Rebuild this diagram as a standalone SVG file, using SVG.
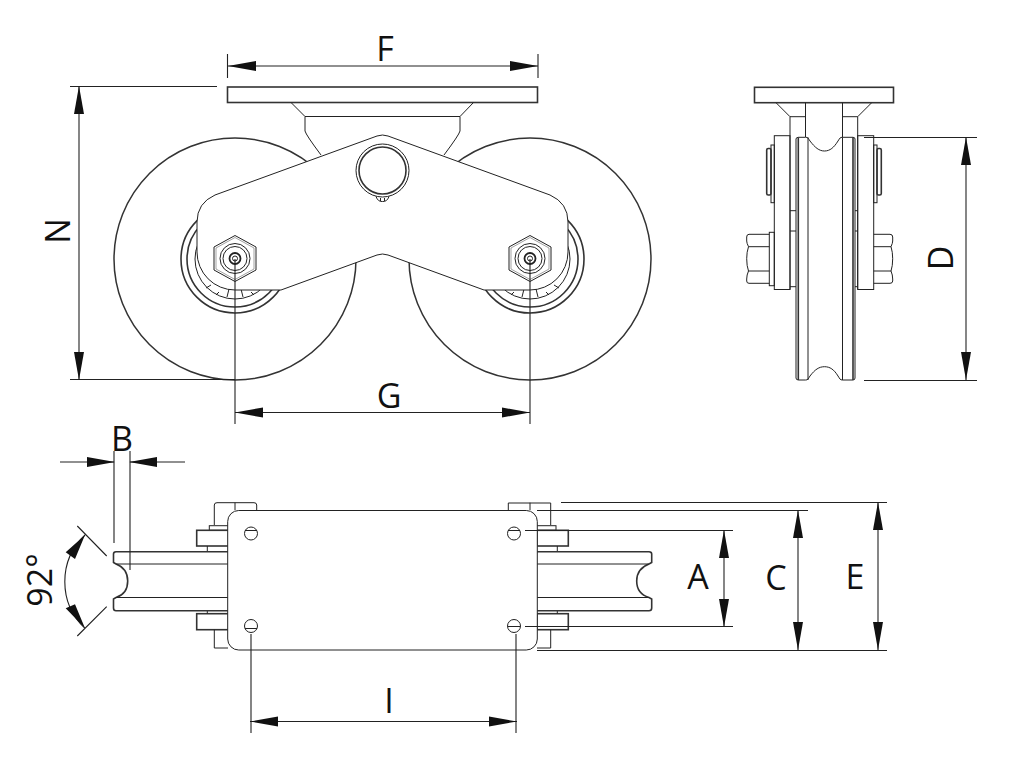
<svg xmlns="http://www.w3.org/2000/svg" width="1027" height="763" viewBox="0 0 1027 763">
<style>
.l{fill:none;stroke:#222;stroke-width:1}
.o{fill:none;stroke:#333;stroke-width:1.6}
.w{fill:#fff;stroke:#222;stroke-width:1}
.wo{fill:#fff;stroke:#333;stroke-width:1.5}
.d{fill:none;stroke:#222;stroke-width:1.1}
.a{fill:none;stroke:#222;stroke-width:1.1;marker-start:url(#ar);marker-end:url(#ar)}
.t{font-family:"Open Sans",sans-serif;font-size:34px;fill:#111;text-anchor:middle}
</style>
<defs>
<marker id="ar" markerUnits="userSpaceOnUse" markerWidth="30" markerHeight="12" refX="28" refY="5.500" orient="auto-start-reverse" viewBox="0 0 30 12"><path d="M28 5.500L0 0.500V10.500Z" fill="#111"/></marker>
<g id="hub">
<circle r="54" class="o"/><circle r="48" class="o"/><circle r="40" class="l"/>
<path d="M-6 30L-8 38M6 30L8 38M-24 26L-29 29M24 26L29 29M-16 33L-19 36M16 33L19 36" class="l"/>
</g>
<g id="bolt">
<path d="M0-23L21-11.500V11.500L0 23L-21 11.500V-11.500Z" class="w"/>
<path d="M0-21L19-10.500V10.500L0 21L-19 10.500V-10.500Z" fill="none" stroke="#444" stroke-width=".5"/>
<circle r="15" class="l"/><circle r="12" class="l"/><circle r="5.500" fill="none" stroke="#222" stroke-width="1.800"/><circle r="2.500" class="l"/>
</g>
</defs>
<rect width="1027" height="763" fill="#fff"/>

<g id="front-view">
<rect x="227.500" y="87" width="310" height="15.500" class="o"/>
<path d="M291 102.500L305 116.500H460L473.500 102.500M305 116.500V131Q306 135 321 155M460 116.500V131Q459 135 444 155" class="l"/>
<circle cx="235" cy="259" r="121" class="wo"/>
<circle cx="530" cy="259" r="121" class="wo"/>
<use href="#hub" x="235" y="259"/>
<use href="#hub" x="530" y="259"/>
<path d="M377 136Q382.500 134 388 136L550 195Q568 203 568 222V252A38 38 0 0 1 530 290H484L388 255Q382.500 253 377 255L281 290H235A38 38 0 0 1 197 252V222Q197 203 215 195Z" class="w"/>
<use href="#bolt" x="235" y="258.500"/>
<use href="#bolt" x="530" y="258.500"/>
<circle cx="382.500" cy="170.500" r="26.500" class="l"/>
<circle cx="382.500" cy="170.500" r="23.500" class="o"/>
<path d="M376 196.500Q378 202 382.500 201.500Q387 202 389 196.500M380.500 198V201M384.500 198V201" class="l"/>
</g>

<g id="side-view">
<rect x="754.500" y="87.300" width="139" height="15.400" class="o"/>
<path d="M776 102.700L790 116.700H805.500M871.700 102.700L857.700 116.700H842.500M805.500 102.700V137M842.500 102.700V137M790 116.700V289.500M857.700 116.700V289.500" class="l"/>
<rect x="774.300" y="135.700" width="15.700" height="153.800" class="l"/>
<rect x="857.700" y="135.700" width="16" height="153.800" class="l"/>
<rect x="771" y="145" width="3.300" height="57.700" class="l"/>
<rect x="766.700" y="148.500" width="4.300" height="46.500" rx="1.500" class="o"/>
<rect x="873.700" y="145" width="3.300" height="57.700" class="l"/>
<rect x="877" y="148.500" width="4.300" height="46.500" rx="1.500" class="o"/>
<path d="M790 210.700H796M790 231H796M790 286.700H796M852 210.700H857.700M852 231H857.700M852 286.700H857.700" class="l"/>
<rect x="769.300" y="232.300" width="5" height="53.400" class="l"/>
<path d="M769.300 234.300H749Q746.700 234.300 746.700 237V241Q746.700 243 748.500 246.700Q746.700 252 746.700 258.700Q746.700 266 748.500 271Q746.700 275 746.700 279V281Q746.700 283.300 749 283.300H769.300M748.500 246.700H769.300M748.500 271H769.300" class="l"/>
<path d="M873.700 234.300H890Q892.700 234.300 892.700 237V241Q892.700 243 891 246.700Q892.700 252 892.700 258.700Q892.700 266 891 271Q892.700 275 892.700 279V281Q892.700 283.300 890 283.300H873.700M873.700 246.700H891M873.700 271H891" class="l"/>
<path d="M798.500 137.300H805.500C808 137.300 808 138 810 141C815 147.500 819 151 824.500 151C830 151 834 147.500 838 141C840 138 840 137.300 842.500 137.300H853Q855 137.300 855 139V378Q855 380 853 380H842.500C840 380 840 379 838 376C834 369.500 830 366.700 824.500 366.700C819 366.700 815 369.500 810 376C808 379 808 380 805.500 380H798.500Q796 380 796 378V139Q796 137.300 798.500 137.300Z" class="w"/>
<path d="M798.300 137.300V380M853 137.300V380" class="o"/>
<path d="M808 137.300V380M842.500 137.300V380" class="l"/>
</g>

<g id="bottom-view">
<path d="M214.300 525V505Q214.300 502.700 217 502.700H254Q256.700 502.700 256.700 505V512M235 502.700V510" class="l"/>
<path d="M508.300 510V503H550.700V525M530 502.700V510" class="l"/>
<rect x="209.300" y="525.700" width="20" height="4.600" class="l"/>
<rect x="535" y="525.700" width="21" height="4.600" class="l"/>
<rect x="196.700" y="530.300" width="32" height="15.700" class="o"/>
<rect x="196.700" y="613.700" width="32" height="16" class="o"/>
<rect x="537" y="530.300" width="31.300" height="15.700" class="o"/>
<rect x="537" y="613.700" width="31.300" height="16" class="o"/>
<path d="M207.300 546V551.700M207.300 610.700V613.700M557.300 546V551.700M557.300 610.700V613.700M214.300 629.700V648H228M550.700 629.700V648H537" class="l"/>
<path d="M228 551.700H116Q113.500 551.700 113.500 554V562.500L116 564C124 567 127.700 572 127.700 581C127.700 590 124 595 116 597.500L113.500 599V608Q113.500 610.700 116 610.700H228" class="o"/>
<path d="M116 564H228M116 597.500H228" class="l"/>
<path d="M537 551.700H649Q651.700 551.700 651.700 554V562.500L649 564C641 567 636.700 572 636.700 581C636.700 590 641 595 649 597.500L651.700 599V608Q651.700 610.700 649 610.700H537" class="o"/>
<path d="M537 564H649M537 597.500H649" class="l"/>
<rect x="227.700" y="510.500" width="309.600" height="139.500" rx="11" class="w"/>
<circle cx="251" cy="533.500" r="6.500" class="l"/>
<circle cx="251" cy="626" r="6.500" class="l"/>
<circle cx="514" cy="533.500" r="6.500" class="l"/>
<circle cx="514" cy="626" r="6.500" class="l"/>
<path d="M245 530.500H257M245 628.500H257M508 530.500H520M508 626.500H520" class="l"/>
</g>

<g id="connectors">
<path class="d" d="M227.500 54V78M538 54V78M70 86.500H217M70 379.500H235M235 259V424M530 259V424M864 137.500H977M864 380.500H977M114 451V543M130 451V570M251 634V733M516 634V733M525 530.500H733M525 626.500H733M537 510.500H808M561 502.500H887M537 650.500H887"/>
<path class="a" d="M228 66H538"/>
<path class="a" d="M79 86V380"/>
<path class="a" d="M235 412.500H530"/>
<path class="a" d="M250 721.500H517"/>
<path class="a" d="M966 137V380"/>
<path class="a" d="M878 502V650"/>
<path class="a" d="M798 510V650"/>
<path class="a" d="M724 530V627"/>
<path class="d" d="M60 462H114M130 462H185"/>
<path d="M115 462L87 457V467ZM129 462L157 457V467Z" fill="#111"/>
<path class="d" d="M77.300 526L106.700 556M77.300 636L106.700 606.700M85 535A64 64 0 0 0 85 628.300"/>
<path d="M85 535L65.700 552.300L75 559ZM85 628.300L65.700 608.300L75 604.300Z" fill="#111"/>
</g>

<g id="labels">
<text class="t" x="385" y="61">F</text>
<text class="t" x="389" y="408">G</text>
<text class="t" x="122" y="451">B</text>
<text class="t" x="698" y="589">A</text>
<text class="t" x="776" y="590">C</text>
<text class="t" x="855" y="589">E</text>
<text class="t" x="389" y="713">I</text>
<text class="t" transform="translate(70 231) rotate(-90)">N</text>
<text class="t" transform="translate(953 258) rotate(-90)">D</text>
<text class="t" transform="translate(52 580) rotate(-90)">92°</text>
</g>
</svg>
